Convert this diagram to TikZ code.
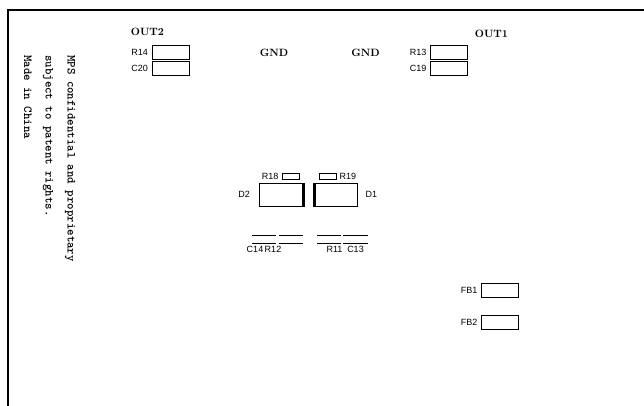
\documentclass[tikz,border=0pt]{standalone}
\usepackage{fontspec}
\newfontfamily\partfont{Liberation Sans}
\usetikzlibrary{positioning}
\tikzset{
    partbox/.style={draw, line width=0.9pt, inner sep=0pt, minimum width=37pt, minimum height=14pt},
    smallbox/.style={draw, line width=0.8pt, inner sep=0pt, minimum width=17pt, minimum height=6pt},
    partlabel/.style={font=\partfont\fontsize{9}{10}\selectfont, inner sep=0pt},
    netlabel/.style={font=\bfseries\fontsize{10.6}{12}\selectfont, inner sep=0pt},
    notelabel/.style={font=\ttfamily\bfseries\fontsize{12.3}{13}\selectfont, rotate=-90, anchor=west, inner sep=0pt}
}
\begin{document}
\begin{tikzpicture}[x=1pt, y=-1pt]
    \useasboundingbox (0,0) rectangle (644,406);

    % Board outline
    \draw[line width=1.6pt] (8,406) -- (8,10) -- (644,10);

    % Notes
    \node[notelabel] (note1) at (70,55) {MPS confidential and proprietary};
    \node[notelabel] (note2) at (48,55) {subject to patent rights.};
    \node[notelabel] (note3) at (28,55) {Made in China};

    % Nets
    \node[netlabel] (out2) at (147.5,32) {OUT2};
    \node[netlabel] (out1) at (491.5,34) {OUT1};
    \node[netlabel] (gnd1) at (274,53) {GND};
    \node[netlabel] (gnd2) at (365.5,53) {GND};

    % Output parts
    \node[partbox] (r14) at (170.5,52) {};
    \node[partlabel, left=3.5pt of r14] (r14text) {R14};
    \node[partbox] (c20) at (170.5,68) {};
    \node[partlabel, left=3.5pt of c20] (c20text) {C20};
    \node[partbox] (r13) at (448.5,52) {};
    \node[partlabel, left=3pt of r13] (r13text) {R13};
    \node[partbox] (c19) at (448.5,68) {};
    \node[partlabel, left=3pt of c19] (c19text) {C19};

    % Diodes
    \node[draw, line width=0.9pt, minimum width=45pt, minimum height=23pt, inner sep=0pt] (d2) at (281.5,194.5) {};
    \node[partlabel, left=8.5pt of d2] (d2text) {D2};
    \fill (d2.north east) rectangle ([xshift=-2.5pt]d2.south east);
    \node[draw, line width=0.9pt, minimum width=44pt, minimum height=23pt, inner sep=0pt] (d1) at (335,194.5) {};
    \node[partlabel, right=8pt of d1] (d1text) {D1};
    \fill (d1.north west) rectangle ([xshift=3pt]d1.south west);

    \node[smallbox] (r18) at (290.5,176) {};
    \node[partlabel, left=3pt of r18] (r18text) {R18};
    \node[smallbox] (r19) at (327.5,176) {};
    \node[partlabel, right=3pt of r19] (r19text) {R19};

    % Edge-on parts
    \foreach \xa/\xb in {252/276, 279/303, 317/341, 343/368} {
        \draw[line width=0.7pt] (\xa,235) -- (\xb,235);
        \draw[line width=0.7pt] (\xa,243) -- (\xb,243);
    }
    \node[partlabel] (c14text) at (255,249) {C14};
    \node[partlabel] (r12text) at (273,249) {R12};
    \node[partlabel] (r11text) at (334.5,249) {R11};
    \node[partlabel] (c13text) at (355.5,249) {C13};

    % Feedback parts
    \node[partbox] (fb1) at (499.5,290) {};
    \node[partlabel, left=3pt of fb1] (fb1text) {FB1};
    \node[partbox] (fb2) at (499.5,322) {};
    \node[partlabel, left=3pt of fb2] (fb2text) {FB2};
\end{tikzpicture}
\end{document}
